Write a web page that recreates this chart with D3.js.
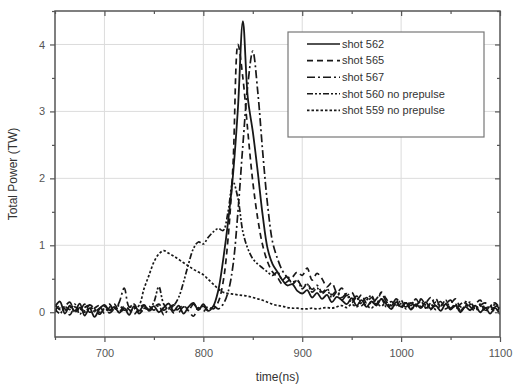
<!DOCTYPE html>
<html>
<head>
<meta charset="utf-8">
<script src="https://cdn.jsdelivr.net/npm/d3@7"></script>
<style>
  body { margin: 0; background: #fff; }
  .chart text { font-family: "Liberation Sans", Arial, sans-serif; }
</style>
</head>
<body>
<div class="chart"></div>
<script>
// Sampling grid (ns), one value every 5 ns from 650 to 1100
var timeStart = 650, timeEnd = 1100, timeStep = 5;

var shot562 = [
  0.08, 0.16, -0.02, 0.10, 0.02, 0.13, -0.05, 0.06, -0.07, 0.05,
  0.11, 0.03, 0.08, -0.01, 0.06, -0.04, 0.09, 0.02, 0.10, 0.04,
  0.09, 0.00, 0.07, 0.13, 0.02, 0.10, -0.02, 0.08, 0.14, 0.03,
  0.12, 0.02, 0.09, 0.32, 0.78, 1.35, 2.05, 3.05, 4.35, 3.2,
  2.7, 2.1, 1.45, 0.95, 0.72, 0.6, 0.48, 0.4, 0.42, 0.32,
  0.28, 0.33, 0.22, 0.29, 0.2, 0.26, 0.15, 0.23, 0.18, 0.12,
  0.21, 0.1, 0.18, 0.08, 0.16, 0.1, 0.2, 0.12, 0.05, 0.15,
  0.08, 0.14, 0.04, 0.12, 0.06, 0.15, 0.05, 0.1, 0.02, 0.12,
  0.04, 0.1, 0.0, 0.08, 0.03, 0.1, 0.0, 0.07, -0.02, 0.06, -0.03
];
var shot565 = [
  0.02, 0.10, 0.05, -0.04, 0.08, 0.03, 0.12, 0.00, 0.06, 0.10,
  -0.02, 0.07, 0.12, 0.01, 0.09, 0.04, -0.03, 0.06, 0.11, 0.02,
  0.07, 0.12, 0.03, 0.08, -0.01, 0.05, 0.10, 0.02, -0.06, 0.07,
  0.01, 0.09, 0.05, 0.15, 0.45, 1.1, 2.2, 4.0, 3.5, 2.7,
  1.95, 1.4, 1.0, 0.75, 0.6, 0.52, 0.42, 0.46, 0.52, 0.6,
  0.55, 0.66, 0.48, 0.58, 0.5, 0.38, 0.44, 0.3, 0.36, 0.25,
  0.3, 0.18, 0.26, 0.14, 0.22, 0.12, 0.3, 0.2, 0.1, 0.18,
  0.06, 0.16, 0.1, 0.2, 0.08, 0.14, 0.22, 0.1, 0.16, 0.05,
  0.12, 0.2, 0.08, 0.14, 0.04, 0.12, 0.18, 0.06, 0.1, 0.0, 0.08
];
var shot567 = [
  0.12, 0.04, 0.09, 0.15, 0.00, 0.07, 0.02, 0.11, 0.05, -0.03,
  0.06, 0.12, 0.02, 0.15, 0.36, 0.08, 0.08, -0.02, 0.05, 0.09,
  0.03, 0.10, -0.04, 0.06, 0.11, 0.00, 0.08, 0.03, 0.12, 0.05,
  0.09, 0.02, 0.1, 0.05, 0.12, 0.3, 0.7, 1.5, 2.5, 3.4,
  3.9, 3.3, 2.4, 1.6, 1.05, 0.8, 0.62, 0.52, 0.45, 0.48,
  0.38, 0.42, 0.34, 0.4, 0.3, 0.35, 0.26, 0.32, 0.22, 0.28,
  0.18, 0.24, 0.15, 0.22, 0.12, 0.2, 0.28, 0.16, 0.1, 0.2,
  0.12, 0.08, 0.16, 0.1, 0.18, 0.06, 0.14, 0.2, 0.08, 0.12,
  0.18, 0.05, 0.12, 0.16, 0.08, 0.02, 0.1, 0.14, 0.04, 0.08, 0.12
];
var shot560 = [
  0.05, -0.02, 0.08, 0.04, 0.12, -0.03, 0.07, 0.10, 0.01, 0.06,
  0.09, -0.01, 0.05, 0.10, 0.03, 0.07, 0.12, 0.00, 0.06, 0.04,
  0.15, 0.38, 0.12, 0.05, 0.1, 0.22, 0.45, 0.72, 0.95, 1.05,
  1.02, 1.12, 1.2, 1.25, 1.22, 1.5, 1.95, 1.7, 1.2, 0.95,
  0.8, 0.72, 0.66, 0.6, 0.55, 0.6, 0.48, 0.54, 0.42, 0.48,
  0.35, 0.42, 0.3, 0.36, 0.28, 0.33, 0.22, 0.3, 0.18, 0.25,
  0.14, 0.22, 0.1, 0.18, 0.25, 0.12, 0.2, 0.08, 0.16, 0.1,
  0.18, 0.05, 0.14, 0.08, 0.2, 0.1, 0.04, 0.15, 0.09, 0.18,
  0.06, 0.12, 0.02, 0.1, 0.15, 0.05, 0.12, 0.03, 0.09, 0.14, 0.05
];
var shot559 = [
  0.0, 0.06, 0.02, 0.08, 0.01, 0.05, 0.0, 0.07, 0.03, 0.0,
  0.05, 0.02, 0.06, 0.0, 0.04, 0.02, 0.05, 0.1, 0.35, 0.55,
  0.75, 0.87, 0.92, 0.88, 0.84, 0.79, 0.74, 0.69, 0.64, 0.6,
  0.56, 0.49, 0.42, 0.35, 0.3, 0.28, 0.27, 0.26, 0.25, 0.24,
  0.22, 0.2, 0.18, 0.15, 0.12, 0.1, 0.09, 0.07, 0.06, 0.06,
  0.05, 0.05, 0.06, 0.05, 0.06, 0.07, 0.06, 0.08, 0.1, 0.07,
  0.12, 0.08, 0.14, 0.1, 0.06, 0.13, 0.09, 0.15, 0.05, 0.12,
  0.08, 0.14, 0.06, 0.1, 0.16, 0.07, 0.12, 0.04, 0.1, 0.13,
  0.06, 0.11, 0.03, 0.09, 0.12, 0.05, 0.1, 0.02, 0.08, 0.11, 0.04
];

var seriesNames = ["shot 562", "shot 565", "shot 567", "shot 560 no prepulse", "shot 559 no prepulse"];
var seriesValues = [shot562, shot565, shot567, shot560, shot559];
// dash patterns: solid, dash, dash-dot, dash-dot-dot, dot
var seriesDashes = ["none", "6,4", "8,3,2,3", "6,2,2,2,2,2", "2.5,2"];

var xMajorTicks = [700, 800, 900, 1000, 1100];
var xMinorTicks = [650, 750, 850, 950, 1050];
var yMajorTicks = [0, 1, 2, 3, 4];
var yMinorTicks = [-0.5, 0.5, 1.5, 2.5, 3.5, 4.5];

drawChart(d3.select(".chart"));

function drawChart(divElement) {
  var width = 515, height = 387;
  var plot = { left: 55, top: 11, right: 500, bottom: 337 };

  var svg = divElement.append("svg")
    .attr("width", width)
    .attr("height", height)
    .style("display", "block");

  var xScale = d3.scaleLinear().domain([650, 1100]).range([plot.left, plot.right]);
  var yScale = d3.scaleLinear().domain([-0.37, 4.5]).range([plot.bottom, plot.top]);

  var times = d3.range(timeStart, timeEnd + 1, timeStep);
  var axisColor = "#555";

  // Grid lines at the major ticks
  svg.append("g").selectAll("line.vgrid")
    .data(xMajorTicks.slice(0, 4))
    .enter().append("line")
    .attr("x1", d => xScale(d)).attr("x2", d => xScale(d))
    .attr("y1", plot.top).attr("y2", plot.bottom)
    .attr("stroke", "#dcdcdc").attr("stroke-width", 1);
  svg.append("g").selectAll("line.hgrid")
    .data(yMajorTicks)
    .enter().append("line")
    .attr("x1", plot.left).attr("x2", plot.right)
    .attr("y1", d => yScale(d)).attr("y2", d => yScale(d))
    .attr("stroke", "#dcdcdc").attr("stroke-width", 1);

  // Clip the curves to the frame
  svg.append("clipPath").attr("id", "plotClip")
    .append("rect")
    .attr("x", plot.left).attr("y", plot.top)
    .attr("width", plot.right - plot.left).attr("height", plot.bottom - plot.top);

  var line = d3.line()
    .curve(d3.curveCatmullRom.alpha(0.5))
    .x((d, i) => xScale(times[i]))
    .y(d => yScale(d));

  svg.append("g").attr("clip-path", "url(#plotClip)")
    .selectAll("path")
    .data(seriesValues)
    .enter().append("path")
    .attr("d", d => line(d))
    .attr("fill", "none")
    .attr("stroke", "#181818")
    .attr("stroke-width", (d, i) => i == 0 ? 1.8 : 1.7)
    .attr("stroke-dasharray", (d, i) => seriesDashes[i]);

  // Axes: outward ticks on bottom/left, inward ticks on top/right
  var fmt = d3.format("d");
  var bottomAxis = svg.append("g")
    .attr("transform", "translate(0," + plot.bottom + ")")
    .call(d3.axisBottom(xScale).tickValues(xMajorTicks).tickSize(5).tickFormat(fmt));
  svg.append("g")
    .attr("transform", "translate(0," + plot.bottom + ")")
    .call(d3.axisBottom(xScale).tickValues(xMinorTicks).tickSize(3).tickFormat(""));
  svg.append("g")
    .attr("transform", "translate(0," + plot.top + ")")
    .call(d3.axisBottom(xScale).tickValues(xMajorTicks).tickSize(5).tickFormat(""));
  svg.append("g")
    .attr("transform", "translate(0," + plot.top + ")")
    .call(d3.axisBottom(xScale).tickValues(xMinorTicks).tickSize(3).tickFormat(""));

  var leftAxis = svg.append("g")
    .attr("transform", "translate(" + plot.left + ",0)")
    .call(d3.axisLeft(yScale).tickValues(yMajorTicks).tickSize(5).tickFormat(fmt));
  svg.append("g")
    .attr("transform", "translate(" + plot.left + ",0)")
    .call(d3.axisLeft(yScale).tickValues(yMinorTicks.filter(v => v > -0.37)).tickSize(3).tickFormat(""));
  svg.append("g")
    .attr("transform", "translate(" + plot.right + ",0)")
    .call(d3.axisLeft(yScale).tickValues(yMajorTicks).tickSize(5).tickFormat(""));
  svg.append("g")
    .attr("transform", "translate(" + plot.right + ",0)")
    .call(d3.axisLeft(yScale).tickValues(yMinorTicks.filter(v => v > -0.37)).tickSize(3).tickFormat(""));

  // Style all axes alike
  svg.selectAll(".domain").attr("stroke", "none");
  svg.selectAll(".tick line").attr("stroke", axisColor).attr("stroke-width", 1.2);
  svg.selectAll(".tick text").attr("fill", "#555").style("font-size", "11px");
  bottomAxis.selectAll(".tick text").attr("dy", "1.1em");
  leftAxis.selectAll(".tick text").attr("x", -10);

  // Frame
  svg.append("rect")
    .attr("x", plot.left).attr("y", plot.top)
    .attr("width", plot.right - plot.left).attr("height", plot.bottom - plot.top)
    .attr("fill", "none").attr("stroke", axisColor).attr("stroke-width", 1.5);

  // Axis titles
  svg.append("text")
    .attr("x", (plot.left + plot.right) / 2).attr("y", 381)
    .attr("text-anchor", "middle")
    .attr("fill", "#333").style("font-size", "12px")
    .text("time(ns)");
  svg.append("text")
    .attr("transform", "translate(17," + ((plot.top + plot.bottom) / 2) + ") rotate(-90)")
    .attr("text-anchor", "middle")
    .attr("fill", "#333").style("font-size", "12px")
    .text("Total Power (TW)");

  // Legend
  var legend = svg.append("g").attr("transform", "translate(288,32)");
  legend.append("rect")
    .attr("width", 196).attr("height", 105)
    .attr("fill", "#fff").attr("stroke", "#777").attr("stroke-width", 1.2);
  var entries = legend.selectAll("g.entry")
    .data(seriesNames)
    .enter().append("g")
    .attr("transform", (d, i) => "translate(0," + (12 + i * 16.6) + ")");
  entries.append("line")
    .attr("x1", 19).attr("x2", 52)
    .attr("stroke", "#181818").attr("stroke-width", 1.6)
    .attr("stroke-dasharray", (d, i) => seriesDashes[i]);
  entries.append("text")
    .attr("x", 54).attr("dy", "0.35em")
    .attr("fill", "#333").style("font-size", "11px")
    .text(d => d);
}
</script>
</body>
</html>
